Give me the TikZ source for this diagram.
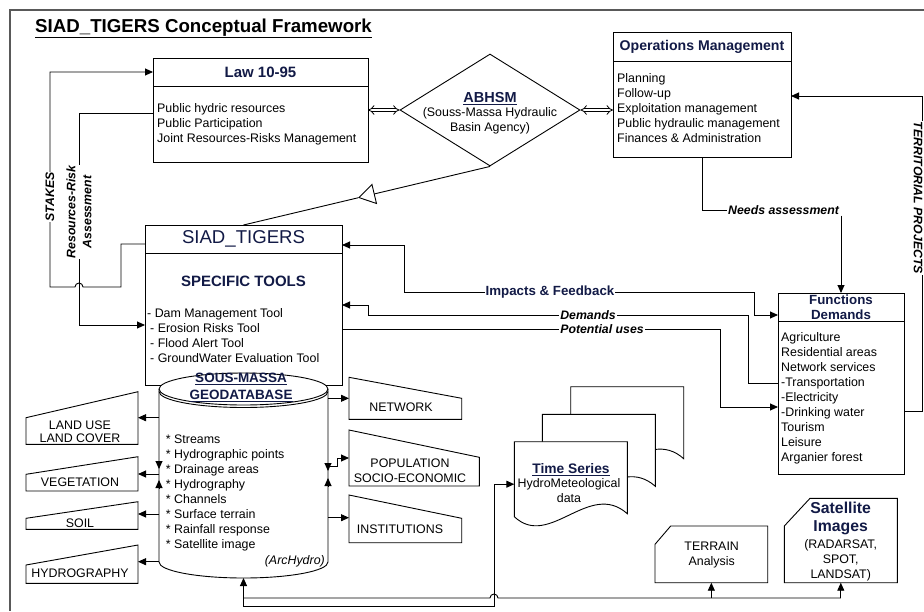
\documentclass[tikz,border=0pt]{standalone}
\usepackage{fontspec}
\setmainfont{Liberation Sans}
\usepackage{tikz}
\usetikzlibrary{arrows.meta,calc,shapes.geometric}

\definecolor{navy}{RGB}{18,26,70}
\newcommand{\bodyfont}{\fontsize{12.4}{15}\selectfont}
\newcommand{\lblfont}{\bfseries\itshape\fontsize{12.3}{16}\selectfont}

\tikzset{
  shp/.style={draw, line width=0.9pt, fill=white},
  hdr/.style={shp, inner sep=0pt, outer sep=0pt},
  txt/.style={font=\bodyfont, inner sep=0pt, align=left, anchor=base west},
  ctxt/.style={font=\bodyfont, inner sep=0pt, align=center, anchor=base},
  ttl/.style={text=navy, inner sep=0pt, anchor=base},
  lbl/.style={font=\lblfont, fill=white, inner sep=1pt},
  wire/.style={line width=0.9pt},
  arr/.style={wire, -{Triangle[length=8pt,width=7pt]}},
  arrs/.style={wire, {Triangle[length=8pt,width=7pt]}-{Triangle[length=8pt,width=7pt]}},
  dbl/.style={double, double distance=2.5pt, line width=0.8pt, {Implies}-{Implies}},
}

\begin{document}
\begin{tikzpicture}[x=1pt, y=-1pt]
  \useasboundingbox (0,0) rectangle (924,611);
  % \draw [step=50, gray, very thin] (0,0) grid (924,611);
  \draw [line width=2pt, black!65] (924,10) -- (10,10) -- (10,611);
  \node [anchor=base west, inner sep=0pt, font=\bfseries\fontsize{18.7}{20}\selectfont] (title) at (35,32.3) {\underline{SIAD\_TIGERS Conceptual Framework}};

  % law, agency, operations (multi-line texts sit on the baseline of their last line)
  \node [hdr, minimum width=215, minimum height=28, font=\bfseries\fontsize{15}{16}\selectfont, text=navy] (lawh) at (260.5,72) {Law 10-95};
  \node [hdr, minimum width=215, minimum height=76, anchor=north] (law) at (lawh.south) {};
  \node [txt] (lawtxt) at (157,142.5) {Public hydric resources\\Public Participation\\Joint Resources-Risks Management};

  \node [diamond, draw, line width=0.9pt, minimum width=180, minimum height=112, inner sep=0pt] (abhsm) at (490,110) {};
  \node [ttl, font=\bfseries\fontsize{14.5}{16}\selectfont] (abhsmt) at (490,102.2) {\underline{ABHSM}};
  \node [ctxt] (abhsmtxt) at (490,131.5) {(Souss-Massa Hydraulic\\Basin Agency)};

  \node [hdr, minimum width=178, minimum height=29, font=\bfseries\fontsize{14.1}{16}\selectfont, text=navy] (opsh) at (702,46.5) {Operations Management};
  \node [hdr, minimum width=178, minimum height=96, anchor=north] (ops) at (opsh.south) {};
  \node [txt] (opstxt) at (617,142.5) {Planning\\Follow-up\\Exploitation management\\Public hydraulic management\\Finances \& Administration};

  \draw [dbl] (law.east |- abhsm.west) -- (abhsm.west);
  \draw [dbl] (abhsm.east) -- (ops.west |- abhsm.east);

  % siad tigers
  \node [hdr, minimum width=197, minimum height=28, font=\fontsize{18.6}{20}\selectfont, text=navy] (siadh) at (243.5,239) {SIAD\_TIGERS};
  \node [hdr, minimum width=197, minimum height=132, anchor=north] (siad) at (siadh.south) {};
  \node [ttl, font=\bfseries\fontsize{15}{16}\selectfont] (spec) at (243.5,286.4) {SPECIFIC TOOLS};
  \node [txt] (tools) at (147,362.2) {- Dam Management Tool\\\hspace*{3pt}- Erosion Risks Tool\\\hspace*{3pt}- Flood Alert Tool\\\hspace*{3pt}- GroundWater Evaluation Tool};

  \coordinate (tri) at ($(abhsm.south)!0.535!(siadh.north)$);
  \draw [wire, -{Triangle[open, length=17pt, width=21pt]}] (abhsm.south) -- (tri);
  \draw [wire] (tri) -- (siadh.north);

  \draw [arr] ([yshift=-5pt]siadh.west) -- ++(-24,0) -- ++(0,43) -- (83,287) arc [start angle=0, end angle=-180, radius=4] -- (50,287) |- (lawh.west);
  \draw [arr] ([yshift=11pt]law.west) -| (79,325) -- ([yshift=-6pt]siad.west);
  \node [lbl, rotate=90] (stakes) at (50,197) {STAKES};
  \node [lbl, rotate=90, align=center] (rra) at (79,212) {Resources-Risk\\Assessment};

  % functions demands
  \node [hdr, minimum width=126, minimum height=28, font=\bfseries\fontsize{13.3}{15}\selectfont, text=navy, align=center] (funch) at (841,307) {Functions\\Demands};
  \node [hdr, minimum width=126, minimum height=153, anchor=north] (func) at (funch.south) {};
  \node [txt] (functxt) at (781,461.5) {Agriculture\\Residential areas\\Network services\\-Transportation\\-Electricity\\-Drinking water\\Tourism\\Leisure\\Arganier forest};

  \node [lbl, fill=none, anchor=west] (needs) at (727,210) {Needs assessment};
  \draw [wire] (ops.south) |- (needs.west);
  \draw [arr] (needs.south -| funch.north) -- (funch.north);

  \draw [arr] ([yshift=-14pt]func.east) -- ++(18,0) |- ([yshift=13pt]ops.east);
  \node [lbl, rotate=-90] (terrp) at (918,198) {TERRITORIAL PROJECTS};

  \draw [arrs] ([yshift=-6pt]siadh.east) -| (404,292) -| (754,315) -- ([yshift=-8pt]funch.west);
  \draw [arr] ([yshift=14.5pt]func.west) -| (748,315) -| (368,305) -- ([yshift=14pt]siad.east);
  \draw [arr] ([yshift=-10pt]siad.east) -| (720,407) -- ([yshift=-9.5pt]func.west);
  \node [lbl, font=\bfseries\fontsize{13.3}{15}\selectfont, text=navy] (imp) at (550,292) {Impacts \& Feedback};
  \node [lbl] (dem) at (588,315) {Demands};
  \node [lbl] (pot) at (602,329) {Potential uses};

  % geodatabase
  \node [inner sep=0pt, outer sep=0pt, minimum width=169, minimum height=173] (geo) at (243.5,475.5) {};
  \draw [shp] (geo.north west) -- (geo.south west) arc [start angle=180, end angle=0, x radius=84.5, y radius=16] -- (geo.north east) arc [start angle=0, end angle=-180, x radius=84.5, y radius=16] -- cycle;
  \draw [wire] (geo.north west) arc [start angle=180, end angle=0, x radius=84.5, y radius=16];
  \draw [wire] ([yshift=-2.5pt]geo.north west) arc [start angle=180, end angle=0, x radius=84.5, y radius=16];
  \node [ttl, font=\bfseries\fontsize{13.5}{17}\selectfont, align=center] (geot) at (241,399.9) {\underline{SOUS-MASSA}\\\underline{GEODATABASE}};
  \node [txt] (geotxt) at (165.7,548.5) {* Streams\\* Hydrographic points\\* Drainage areas\\* Hydrography\\* Channels\\* Surface terrain\\* Rainfall response\\* Satellite image};
  \node [font=\bodyfont\itshape, inner sep=0pt, anchor=base east] (arch) at (325,564.5) {(ArcHydro)};

  \foreach \nm/\tl/\tr/\bt/\ay in {lu/417.7/391.7/444.3/417.7, veg/474.3/456.7/491/474, soil/518.3/501.7/529.3/514, hyd/565/545/583.3/561.7}{
    \draw [shp] (26,\tl) -- (138,\tr) -- (138,\bt) -- (26,\bt) -- cycle;
    \coordinate (\nm) at (138,\ay);
    \draw [arr] (geo.west |- \nm) -- (\nm);
  }
  \draw [arr] ($(geo.west |- veg)+(0,-13)$) -- ($(geo.west |- veg)+(0,-5)$);
  \draw [arr] ($(geo.west |- veg)+(0,14)$) -- ($(geo.west |- veg)+(0,6)$);
  \node [ctxt, font=\fontsize{12.4}{13.7}\selectfont] (lut) at (80,442.7) {LAND USE\\LAND COVER};
  \node [ctxt] (vegt) at (80,486.2) {VEGETATION};
  \node [ctxt] (soilt) at (80,527.2) {SOIL};
  \node [ctxt] (hydt) at (80,577.2) {HYDROGRAPHY};

  \foreach \nm/\tl/\tr/\bt/\rx/\ay in {net/377.3/398.3/419.3/461.7/398.3, pop/430/457.3/486/479.3/458, inst/495/518.3/542.7/461.7/517.7}{
    \draw [shp] (349,\tl) -- (\rx,\tr) -- (\rx,\bt) -- (349,\bt) -- cycle;
    \coordinate (\nm) at (349,\ay);
  }
  \draw [arr] (geo.east |- net) -- (net);
  \draw [arr] ($(geo.east |- pop)+(0,8)$) -- ++(9,0) |- (pop);
  \draw [arr] (geo.east |- inst) -- (inst);
  \draw [arr] ($(geo.east |- pop)+(0,5)$) -- ($(geo.east |- pop)+(0,13)$);
  \draw [arr] ($(geo.east |- pop)+(0,28)$) -- ($(geo.east |- pop)+(0,20)$);
  \node [ctxt] (nett) at (401,411.8) {NETWORK};
  \node [ctxt] (popt) at (410,482.8) {POPULATION\\SOCIO-ECONOMIC};
  \node [ctxt] (instt) at (400,533.8) {INSTITUTIONS};

  % time series
  \foreach \dx/\dy in {56.4/55, 28/27.4, 0/0}{
    \draw [shp, shift={(514.3+\dx,441.7-\dy)}] (0,0) -- (113,0) -- (113,72) .. controls (75,38) and (35,108) .. (0,75) -- cycle;
  }
  \node [inner sep=0pt, outer sep=0pt, minimum width=113, minimum height=75] (ts) at (570.8,479.2) {};
  \node [ttl, font=\bfseries\fontsize{13.8}{15}\selectfont] (tst) at (571,473.3) {\underline{Time Series}};
  \node [ctxt] (tstxt) at (569,502.8) {HydroMeteological\\data};

  % terrain, satellite
  \node [inner sep=0pt, outer sep=0pt, minimum width=112.7, minimum height=56.7] (terr) at (711.35,554.35) {};
  \draw [shp] ([yshift=-18.3pt]terr.north west) -- ([xshift=15.7pt]terr.north west) -- (terr.north east) -- (terr.south east) -- (terr.south west) -- cycle;
  \node [ctxt] (terrt) at (711.7,565.2) {TERRAIN\\Analysis};
  \node [inner sep=0pt, outer sep=0pt, minimum width=113, minimum height=84.4] (sat) at (840.8,540.5) {};
  \draw [shp] ([yshift=-27.7pt]sat.north west) -- ([xshift=25.7pt]sat.north west) -- (sat.north east) -- (sat.south east) -- (sat.south west) -- cycle;
  \node [ttl, font=\bfseries\fontsize{15.8}{18.3}\selectfont, align=center] (satt) at (840.7,531.7) {Satellite\\Images};
  \node [ctxt] (sattxt) at (840.7,578.5) {(RADARSAT,\\SPOT,\\LANDSAT)};

  \coordinate (geob) at ($(geo.south)+(0,16)$);
  \coordinate (busw) at (243.5,598);
  \draw [arrs] (geob) |- (494,606) |- ([yshift=-5pt]ts.west);
  \draw [wire] (busw) -- (490,598) arc [start angle=180, end angle=360, radius=4] -- (sat.south |- busw);
  \draw [arr] (terr.south |- busw) -- (terr.south);
  \draw [arr] (sat.south |- busw) -- (sat.south);
\end{tikzpicture}
\end{document}
